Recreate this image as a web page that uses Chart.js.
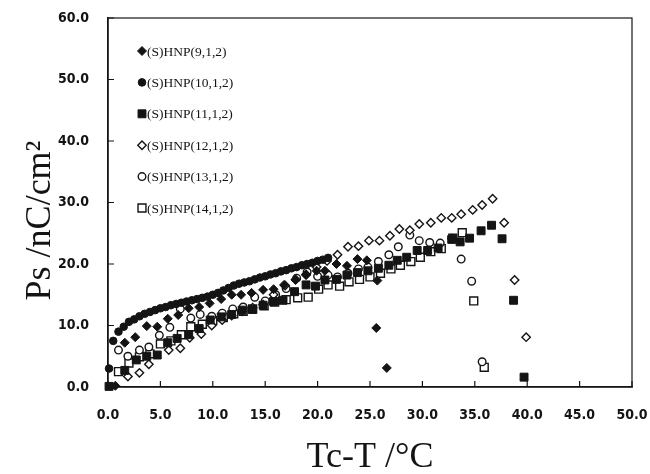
<!DOCTYPE html>
<html>
<head>
<meta charset="utf-8">
<script src="https://cdn.jsdelivr.net/npm/chart.js@4.4.1/dist/chart.umd.min.js"></script>
<style>
  html, body { margin: 0; padding: 0; background: #fff; overflow: hidden; }
  canvas { display: block; }
</style>
</head>
<body>
<canvas id="myChart" width="650" height="474"></canvas>
<script>
// values: Tc-T (°C) and Ps (nC/cm2)
const labels = ['(S)HNP(9,1,2)', '(S)HNP(10,1,2)', '(S)HNP(11,1,2)', '(S)HNP(12,1,2)', '(S)HNP(13,1,2)', '(S)HNP(14,1,2)']

const x9 = [0.7, 1.6, 2.6, 3.7, 4.7, 5.7, 6.7, 7.7, 8.7, 9.7, 10.8, 11.8, 12.7, 13.7, 14.8, 15.8, 16.8, 17.9, 18.9, 19.9, 20.7, 21.8, 22.8, 23.8, 24.7, 25.7, 25.6, 26.6]
const y9 = [0.2, 7.2, 8.1, 9.9, 9.8, 11.1, 11.7, 12.8, 13.0, 13.6, 14.3, 15.0, 15.0, 15.3, 15.8, 15.9, 16.6, 17.4, 18.2, 18.9, 18.9, 20.0, 19.7, 20.8, 20.6, 17.3, 9.6, 3.1]

const x10 = [0.1, 0.5, 1.0, 1.5, 2.0, 2.5, 3.0, 3.5, 4.0, 4.5, 5.0, 5.5, 6.0, 6.5, 7.0, 7.5, 8.0, 8.5, 9.0, 9.5, 10.0, 10.5, 11.0, 11.5, 12.0, 12.5, 13.0, 13.5, 14.0, 14.5, 15.0, 15.5, 16.0, 16.5, 17.0, 17.5, 18.0, 18.5, 19.0, 19.5, 20.0, 20.5, 21.0]
const y10 = [3.0, 7.5, 9.0, 9.8, 10.6, 11.0, 11.5, 11.9, 12.2, 12.5, 12.8, 13.0, 13.3, 13.5, 13.7, 13.9, 14.1, 14.3, 14.5, 14.7, 15.0, 15.3, 15.7, 16.1, 16.5, 16.8, 17.0, 17.2, 17.5, 17.8, 18.0, 18.3, 18.5, 18.8, 19.0, 19.3, 19.5, 19.8, 20.0, 20.2, 20.5, 20.7, 21.0]

const x11 = [0.1, 1.6, 2.7, 3.7, 4.7, 5.7, 6.6, 7.7, 8.7, 9.75, 10.8, 11.8, 12.8, 13.8, 14.8, 15.8, 16.7, 17.8, 18.9, 19.8, 20.7, 21.8, 22.8, 23.8, 24.8, 25.8, 26.8, 27.6, 28.5, 29.5, 30.5, 31.5, 32.8, 33.6, 34.5, 35.6, 36.6, 37.6, 38.7, 39.7]
const y11 = [0.1, 2.7, 4.4, 5.0, 5.2, 7.2, 7.9, 8.5, 9.5, 10.9, 11.4, 11.8, 12.5, 12.6, 13.3, 13.9, 14.1, 15.5, 16.6, 16.4, 17.4, 17.5, 18.2, 18.6, 18.9, 19.3, 19.8, 20.6, 21.1, 22.2, 22.2, 22.6, 24.0, 23.6, 24.2, 25.4, 26.3, 24.1, 14.1, 1.6]

const x12 = [1.9, 3.0, 3.9, 5.8, 6.9, 7.8, 8.9, 9.9, 10.9, 11.8, 12.8, 13.8, 14.8, 15.8, 16.9, 17.9, 18.9, 19.9, 20.9, 21.9, 22.9, 23.9, 24.9, 25.9, 26.9, 27.8, 28.8, 29.7, 30.8, 31.8, 32.8, 33.7, 34.8, 35.7, 36.7, 37.8, 38.8, 39.9]
const y12 = [1.7, 2.3, 3.7, 6.0, 6.3, 8.0, 8.6, 10.0, 10.9, 11.6, 12.3, 12.9, 13.4, 15.0, 16.5, 17.5, 18.3, 19.5, 20.5, 21.5, 22.8, 22.9, 23.8, 23.8, 24.6, 25.7, 25.5, 26.5, 26.7, 27.5, 27.5, 28.1, 28.8, 29.6, 30.6, 26.7, 17.4, 8.1]

const x13 = [1.0, 1.9, 3.0, 3.9, 4.9, 5.9, 6.9, 7.9, 8.8, 9.9, 10.9, 11.9, 12.9, 14.0, 15.0, 16.0, 17.0, 18.0, 19.0, 20.0, 21.0, 21.9, 22.9, 23.9, 24.8, 25.8, 26.8, 27.7, 28.8, 29.7, 30.7, 31.7, 32.8, 33.7, 34.7, 35.7]
const y13 = [6.0, 5.0, 6.0, 6.5, 8.4, 9.7, 12.7, 11.2, 11.8, 11.5, 12.0, 12.7, 13.0, 14.6, 14.0, 15.0, 16.0, 17.7, 18.7, 18.0, 18.2, 17.9, 18.5, 19.2, 19.5, 20.4, 21.5, 22.8, 24.7, 23.8, 23.5, 23.4, 24.2, 20.8, 17.2, 4.1]

const x14 = [1.0, 2.0, 3.0, 4.0, 5.0, 6.0, 7.0, 7.9, 9.0, 10.0, 11.0, 12.0, 12.9, 13.8, 14.9, 15.9, 17.0, 18.1, 19.1, 20.1, 21.0, 22.1, 23.0, 24.0, 25.0, 26.0, 27.0, 27.9, 28.9, 29.8, 30.8, 31.8, 32.9, 33.8, 34.9, 35.9]
const y14 = [2.5, 3.9, 4.9, 5.4, 7.0, 7.5, 8.5, 9.8, 10.2, 10.8, 11.3, 11.9, 12.3, 12.7, 13.2, 13.8, 14.2, 14.5, 14.6, 15.9, 16.6, 16.4, 17.1, 17.5, 17.9, 18.5, 19.2, 19.8, 20.4, 21.1, 22.0, 22.5, 24.2, 25.1, 14.0, 3.2]

const xTicks = [0, 5, 10, 15, 20, 25, 30, 35, 40, 45, 50]
const yTicks = [0, 10, 20, 30, 40, 50, 60]

const ink = '#141414'
const tickFont = { family: "'Liberation Sans Narrow', 'DejaVu Sans Condensed', sans-serif", size: 14, weight: 'bold' }
const titleFont = { family: "'Liberation Serif', 'DejaVu Serif', serif", size: 36, lineHeight: 1 }

function pts(xs, ys) {
  return xs.map((v, i) => ({ x: v, y: ys[i] }))
}

function serie(i, xs, ys, style, filled, r) {
  return {
    label: labels[i],
    data: pts(xs, ys),
    pointStyle: style,
    pointRadius: r,
    pointHoverRadius: r,
    backgroundColor: filled ? ink : '#fff',
    borderColor: ink,
    borderWidth: filled ? 1 : 1.4,
    showLine: false,
    clip: false
  }
}

// inward ticks, closed frame and the inset legend
const frame = {
  id: 'frame',
  afterDraw(chart) {
    const ctx = chart.ctx
    const a = chart.chartArea
    const sx = chart.scales.x
    const sy = chart.scales.y
    ctx.save()
    ctx.strokeStyle = ink
    ctx.lineWidth = 1.2
    ctx.strokeRect(a.left, a.top, a.right - a.left, a.bottom - a.top)
    ctx.beginPath()
    xTicks.forEach(v => {
      const px = sx.getPixelForValue(v)
      ctx.moveTo(px, a.bottom)
      ctx.lineTo(px, a.bottom - 6)
    })
    yTicks.forEach(v => {
      const py = sy.getPixelForValue(v)
      ctx.moveTo(a.left, py)
      ctx.lineTo(a.left + 6, py)
    })
    ctx.stroke()

    ctx.font = "13.5px 'Liberation Serif', serif"
    ctx.textBaseline = 'middle'
    ctx.fillStyle = ink
    chart.data.datasets.forEach((ds, i) => {
      const ly = a.top + 33 + i * 31.4
      const lx = a.left + 34
      const opt = { pointStyle: ds.pointStyle, radius: ds.pointRadius, borderWidth: ds.borderWidth, rotation: 0 }
      ctx.fillStyle = ds.backgroundColor
      ctx.strokeStyle = ds.borderColor
      ctx.lineWidth = ds.borderWidth
      Chart.helpers.drawPoint(ctx, opt, lx, ly)
      ctx.fillStyle = ink
      ctx.fillText(ds.label, lx + 5, ly + 1)
    })
    ctx.restore()
  }
}

const data = {
  datasets: [
    serie(0, x9, y9, 'rectRot', true, 4.5),
    serie(1, x10, y10, 'circle', true, 3.8),
    serie(2, x11, y11, 'rect', true, 5.6),
    serie(3, x12, y12, 'rectRot', false, 4.2),
    serie(4, x13, y13, 'circle', false, 3.8),
    serie(5, x14, y14, 'rect', false, 5.6)
  ]
}

const config = {
  type: 'scatter',
  data: data,
  options: {
    responsive: false,
    animation: false,
    events: [],
    layout: { padding: { top: 18, right: 18, left: 0, bottom: 0 } },
    plugins: {
      legend: { display: false },
      tooltip: { enabled: false }
    },
    scales: {
      x: {
        type: 'linear',
        min: 0,
        max: 50,
        afterFit: s => { s.height = 87 },
        afterBuildTicks: s => { s.ticks = xTicks.map(v => ({ value: v })) },
        ticks: { color: ink, font: tickFont, padding: 2, maxRotation: 0, callback: v => v.toFixed(1) },
        grid: { display: true, drawOnChartArea: false, drawTicks: true, tickLength: 18, tickColor: 'rgba(0,0,0,0)' },
        border: { display: true, color: ink, width: 1.5 },
        title: { display: true, text: 'Tc-T /°C', color: ink, font: titleFont, padding: { top: 0, bottom: -2 } }
      },
      y: {
        type: 'linear',
        min: 0,
        max: 60,
        afterFit: s => { s.width = 108 },
        afterBuildTicks: s => { s.ticks = yTicks.map(v => ({ value: v })) },
        ticks: { color: ink, font: tickFont, padding: 2, callback: v => v.toFixed(1) },
        grid: { display: true, drawOnChartArea: false, drawTicks: true, tickLength: 17, tickColor: 'rgba(0,0,0,0)' },
        border: { display: true, color: ink, width: 1.5 },
        // trailing em space nudges the centred title down, as in the figure
        title: { display: true, text: 'Ps /nC/cm²\u2003', color: ink, font: titleFont, padding: { top: 23, bottom: 0 } }
      }
    }
  },
  plugins: [frame]
}

const myChart = new Chart(document.getElementById('myChart'), config)
</script>
</body>
</html>
